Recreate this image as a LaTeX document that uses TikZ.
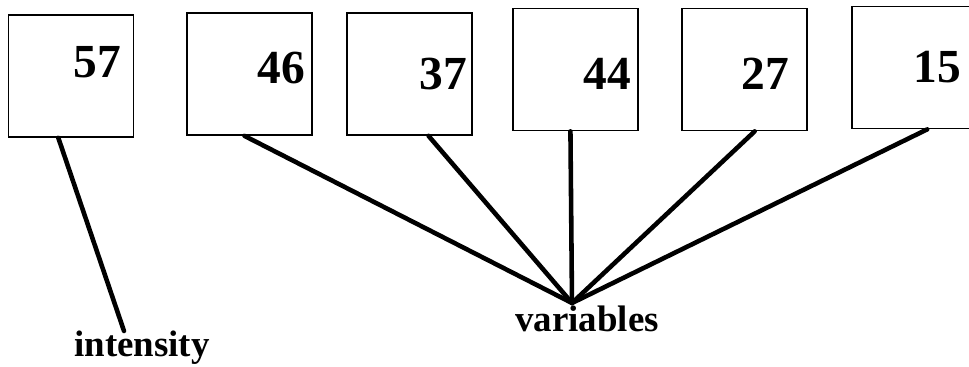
\documentclass[tikz,border=0pt]{standalone}
\usepackage{fontspec}
\setmainfont{Liberation Serif}
\usetikzlibrary{calc}

\tikzset{
  box/.style={draw,line width=1pt,minimum width=2.5cm,minimum height=2.44cm,inner sep=0pt},
  num/.style={font=\bfseries\fontsize{27}{27}\selectfont,inner sep=0pt},
  lbl/.style={font=\bfseries\fontsize{21}{21}\selectfont,inner sep=0pt,anchor=base},
  link/.style={line width=2.6pt,line cap=round},
}

\begin{document}
\begin{tikzpicture}[x=0.02cm,y=-0.02cm]
    \useasboundingbox (0,0) rectangle (969,367);

    % boxes
    \node[box] (b1) at (71,76) {};
    \node[box] (b2) at (249.5,74) {};
    \node[box] (b3) at (409.5,74) {};
    \node[box] (b4) at (575.5,69.5) {};
    \node[box] (b5) at (744.5,69.5) {};
    \node[box] (b6) at (914.5,67.5) {};

    \node[num] (n1) at (97,62) {57};
    \node[num] (n2) at (281,68) {46};
    \node[num] (n3) at (443,74) {37};
    \node[num] (n4) at (607,74) {44};
    \node[num] (n5) at (765,74) {27};
    \node[num] (n6) at (937,67) {15};

    % labels
    \node[lbl] (intensity) at (142,357) {intensity};
    \node[lbl] (variables) at (587,332) {variables};
    \coordinate (ci) at (124,331);
    \coordinate (cv) at (572,303);

    \draw[link] ($(b1.south west)!0.40!(b1.south east)$) -- (ci);
    \draw[link] ($(b2.south west)!0.46!(b2.south east)$) -- (cv);
    \draw[link] ($(b3.south west)!0.65!(b3.south east)$) -- (cv);
    \draw[link] ($(b4.south west)!0.46!(b4.south east)$) -- (cv);
    \draw[link] ($(b5.south west)!0.58!(b5.south east)$) -- (cv);
    \draw[link] ($(b6.south west)!0.60!(b6.south east)$) -- (cv);
\end{tikzpicture}
\end{document}
